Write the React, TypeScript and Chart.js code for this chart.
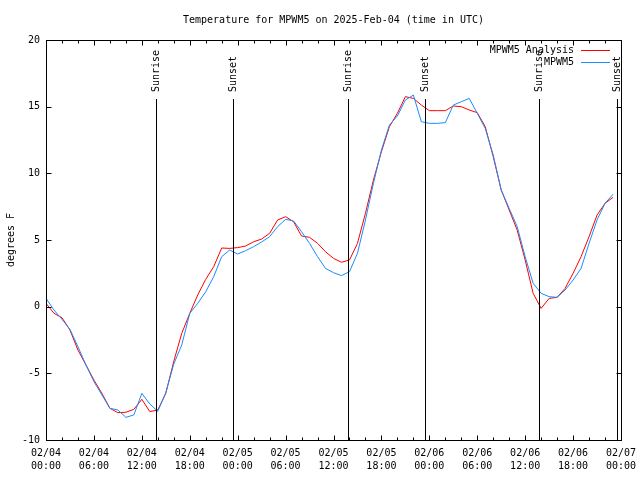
import React, { useEffect, useRef } from 'react';
import { Chart, registerables } from 'chart.js';

Chart.register(...registerables);

const TITLE = 'Temperature for MPWM5 on 2025-Feb-04 (time in UTC)';
const Y_TITLE = 'degrees F';
const FONT = 'DejaVu Sans Mono';

// hours since 2025-02-04 00:00 UTC
const hours = [
  0, 1, 2, 3, 4, 5, 6, 7, 8, 9, 10, 11, 12, 13, 14, 15, 16, 17, 18, 19, 20, 21, 22, 23,
  24, 25, 26, 27, 28, 29, 30, 31, 32, 33, 34, 35, 36, 37, 38, 39, 40, 41, 42, 43, 44, 45, 46, 47,
  48, 49, 50, 51, 52, 53, 54, 55, 56, 57, 58, 59, 60, 61, 62, 63, 64, 65, 66, 67, 68, 69, 70, 71,
];

// MPWM5 Analysis (red)
const analysisF = [
  0.25, -0.5, -0.83, -1.75, -3.25, -4.37, -5.5, -6.5, -7.62, -7.95, -7.92, -7.7,
  -6.95, -7.87, -7.75, -6.5, -4.1, -2.0, -0.5, 0.88, 2.05, 3.0, 4.4, 4.37,
  4.43, 4.55, 4.87, 5.07, 5.5, 6.5, 6.75, 6.37, 5.3, 5.2, 4.75, 4.12,
  3.62, 3.33, 3.5, 4.75, 7.0, 9.5, 11.62, 13.5, 14.5, 15.75, 15.62, 15.12,
  14.7, 14.7, 14.7, 15.05, 15.0, 14.75, 14.55, 13.5, 11.25, 8.75, 7.25, 5.75,
  3.5, 1.0, -0.13, 0.62, 0.7, 1.37, 2.5, 3.75, 5.25, 6.87, 7.75, 8.2,
];

// MPWM5 observed (blue)
const observedF = [
  0.63, -0.25, -0.95, -1.7, -3.0, -4.37, -5.62, -6.62, -7.62, -7.75, -8.3, -8.12,
  -6.5, -7.3, -7.85, -6.45, -4.3, -2.87, -0.5, 0.25, 1.12, 2.25, 3.75, 4.25,
  3.95, 4.2, 4.5, 4.85, 5.25, 6.0, 6.55, 6.43, 5.62, 4.75, 3.75, 2.87,
  2.55, 2.33, 2.62, 4.0, 6.5, 9.25, 11.75, 13.62, 14.3, 15.5, 15.87, 13.87,
  13.75, 13.75, 13.8, 15.12, 15.37, 15.62, 14.5, 13.37, 11.37, 8.75, 7.37, 6.0,
  3.75, 1.75, 1.0, 0.75, 0.7, 1.25, 2.0, 2.87, 4.75, 6.5, 7.75, 8.43,
];

const xTickDates = ['02/04', '02/04', '02/04', '02/04', '02/05', '02/05', '02/05', '02/05', '02/06', '02/06', '02/06', '02/06', '02/07'];
const xTickTimes = ['00:00', '06:00', '12:00', '18:00', '00:00', '06:00', '12:00', '18:00', '00:00', '06:00', '12:00', '18:00', '00:00'];

const sunEventHours = [13.81, 23.45, 37.85, 47.5, 61.77, 71.54];
const sunEventLabels = ['Sunrise', 'Sunset', 'Sunrise', 'Sunset', 'Sunrise', 'Sunset'];

const legendLabels = ['MPWM5 Analysis', 'MPWM5'];
const RED = '#ff0000';
const BLUE = '#1a8cff';
const legendColors = [RED, BLUE];

const gnuplotPlugin = {
  id: 'gnuplotDecor',
  beforeDraw(chart: any) {
    const { ctx, width, height } = chart;
    ctx.save();
    ctx.fillStyle = '#ffffff';
    ctx.fillRect(0, 0, width, height);
    ctx.restore();
  },
  afterDraw(chart: any) {
    const { ctx, chartArea: a, scales } = chart;
    const xs = scales.x;
    const ys = scales.y;
    const L = Math.round(a.left) + 0.5;
    const R = Math.round(a.right) + 0.5;
    const T = Math.round(a.top) + 0.5;
    const B = Math.round(a.bottom) + 0.5;
    ctx.save();
    ctx.strokeStyle = '#000';
    ctx.fillStyle = '#000';
    ctx.lineWidth = 1;

    // frame
    ctx.strokeRect(L, T, R - L, B - T);

    // x ticks (major + minor), inward at bottom and top
    const xt = xs.ticks.map((t: any) => t.value);
    ctx.beginPath();
    xt.forEach((v: number, i: number) => {
      const px = Math.round(xs.getPixelForValue(v)) + 0.5;
      ctx.moveTo(px, B); ctx.lineTo(px, B - 5);
      ctx.moveTo(px, T); ctx.lineTo(px, T + 5);
      if (i < xt.length - 1) {
        const step = (xt[i + 1] - v) / 3;
        for (let k = 1; k < 3; k++) {
          const mx = Math.round(xs.getPixelForValue(v + step * k)) + 0.5;
          ctx.moveTo(mx, B); ctx.lineTo(mx, B - 3);
          ctx.moveTo(mx, T); ctx.lineTo(mx, T + 3);
        }
      }
    });
    // y ticks inward left and right
    ys.ticks.forEach((t: any) => {
      const py = Math.round(ys.getPixelForValue(t.value)) + 0.5;
      ctx.moveTo(L, py); ctx.lineTo(L + 5, py);
      ctx.moveTo(R, py); ctx.lineTo(R - 5, py);
    });
    ctx.stroke();

    // sunrise / sunset lines
    ctx.font = `10px "${FONT}"`;
    sunEventHours.forEach((h, i) => {
      const px = Math.round(xs.getPixelForValue(h)) + 0.5;
      ctx.beginPath();
      ctx.moveTo(px, B);
      ctx.lineTo(px, a.top + 59);
      ctx.stroke();
      ctx.save();
      ctx.translate(px, a.top + 52);
      ctx.rotate(-Math.PI / 2);
      ctx.textAlign = 'left';
      ctx.textBaseline = 'middle';
      ctx.fillText(sunEventLabels[i], 0, 0);
      ctx.restore();
    });

    // legend
    legendLabels.forEach((lab, i) => {
      const y = a.top + 10 + i * 12;
      ctx.textAlign = 'right';
      ctx.textBaseline = 'middle';
      ctx.fillStyle = '#000';
      ctx.fillText(lab, a.right - 47, y);
      ctx.strokeStyle = legendColors[i];
      ctx.beginPath();
      ctx.moveTo(a.right - 40, Math.round(y) + 0.5);
      ctx.lineTo(a.right - 11, Math.round(y) + 0.5);
      ctx.stroke();
    });

    // title
    ctx.fillStyle = '#000';
    ctx.textAlign = 'center';
    ctx.textBaseline = 'middle';
    ctx.fillText(TITLE, (a.left + a.right) / 2, 20);
    ctx.restore();
  },
};

export default function App() {
  const ref = useRef<HTMLCanvasElement>(null);
  useEffect(() => {
    document.body.style.margin = '0';
    const canvas = ref.current!;
    const chart = new Chart(canvas, {
      type: 'line',
      data: {
        datasets: [
          {
            label: legendLabels[1],
            data: hours.map((h, i) => ({ x: h, y: observedF[i] })),
            borderColor: BLUE,
            borderWidth: 1,
            pointRadius: 0,
            tension: 0,
            fill: false,
          },
          {
            label: legendLabels[0],
            data: hours.map((h, i) => ({ x: h, y: analysisF[i] })),
            borderColor: RED,
            borderWidth: 1,
            pointRadius: 0,
            tension: 0,
            fill: false,
          },
        ],
      },
      options: {
        animation: false,
        responsive: false,
        devicePixelRatio: 1,
        layout: { padding: { top: 40, right: 19, left: 0, bottom: 0 } },
        plugins: {
          legend: { display: false },
          tooltip: { enabled: false },
          title: { display: false },
        },
        scales: {
          x: {
            type: 'linear',
            min: 0,
            max: 72,
            grid: { display: false, drawTicks: false },
            border: { display: false },
            ticks: {
              stepSize: 6,
              autoSkip: false,
              maxRotation: 0,
              minRotation: 0,
              padding: 7,
              color: '#000',
              font: { family: FONT, size: 10, lineHeight: 1.3 },
              callback: (v: any) => {
                const i = Math.round(Number(v) / 6);
                return [xTickDates[i], xTickTimes[i]];
              },
            },
            afterFit: (s: any) => {
              s.height = 40;
              s.paddingLeft = 0;
              s.paddingRight = 0;
            },
          },
          y: {
            type: 'linear',
            min: -10,
            max: 20,
            grid: { display: false, drawTicks: false },
            border: { display: false },
            ticks: {
              stepSize: 5,
              padding: 6,
              color: '#000',
              font: { family: FONT, size: 10 },
              callback: (v: any) => String(v),
            },
            title: {
              display: true,
              text: Y_TITLE,
              color: '#000',
              font: { family: FONT, size: 10 },
              padding: { top: 5, bottom: 0 },
            },
            afterFit: (s: any) => {
              s.width = 46;
              s.paddingTop = 0;
              s.paddingBottom = 0;
            },
          },
        },
      },
      plugins: [gnuplotPlugin],
    });
    return () => chart.destroy();
  }, []);
  return (
    <div style={{ width: 640, height: 480 }}>
      <canvas ref={ref} width={640} height={480} style={{ display: 'block' }} />
    </div>
  );
}
